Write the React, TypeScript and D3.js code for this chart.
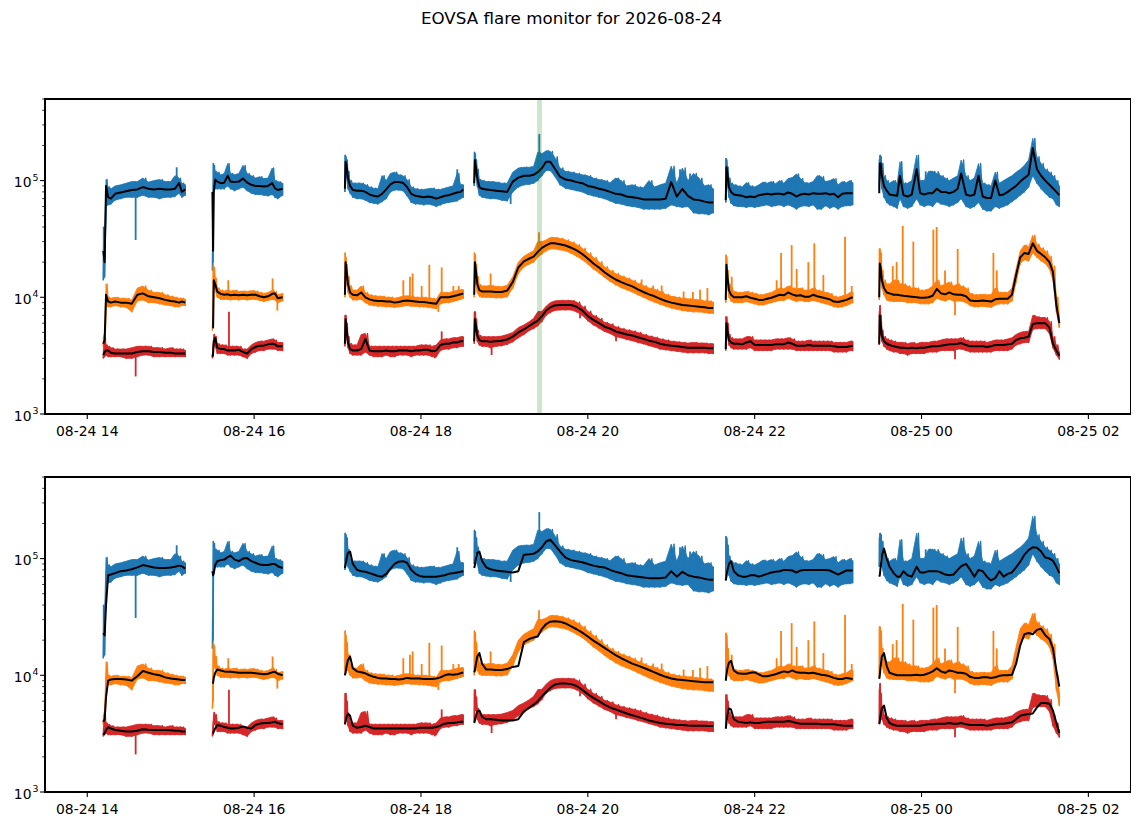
import * as d3 from 'd3';

// Time of each sample, minutes after 2026-08-24 14:00 UT.
// A gap of more than 5 minutes between samples starts a new scan segment.
const timeMin = [
  11.5, 12.5, 13.5, 15, 17, 20, 24, 28, 32, 36, 40, 44, 48, 52, 56, 60, 63, 66, 68, 70.5,
  90, 90.5, 91, 92, 93.5, 96, 98.5, 101, 103, 106, 109, 112, 115, 118, 121, 124, 127, 130, 133, 135, 137, 140.5,
  185.3, 185.8, 186.5, 187.5, 189, 191, 194, 197, 200, 203, 206, 209, 212, 215, 218, 221, 224, 227, 230, 233, 236, 239, 242, 245, 248, 251, 254, 257, 260, 263, 266, 268.5, 270.4,
  278.3, 278.8, 279.5, 280.5, 282, 284, 287, 290, 294, 298, 302, 306, 310, 314, 318, 321, 324, 327, 330, 333, 336, 340, 344, 348, 352, 356, 360, 364, 368, 372, 376, 380, 384, 388, 392, 396, 400, 404, 408, 412, 416, 420, 424, 428, 432, 436, 440, 444, 447, 450.2,
  459.2, 459.7, 460.4, 461.5, 463, 465, 468, 471, 474, 477, 480, 483, 486, 489, 492, 495, 498, 501, 504, 507, 510, 513, 516, 519, 522, 525, 528, 531, 534, 537, 540, 543, 546, 548.5, 550.5,
  569.6, 570, 570.6, 571.5, 573, 575, 577, 580, 582.5, 584.5, 587, 590, 593, 596.5, 599, 602, 605, 608, 611, 614, 617, 620, 623, 626, 628.5, 632, 635, 638, 641, 644, 647, 650, 653, 656, 659, 662, 665, 668, 671, 674, 677, 680, 683, 686, 689, 692, 694.5, 697, 699.1,
];

// all flux values in thousands; lo/hi = spread of the raw samples in each bin,
// med = running median (upper panel), smooth = smoothed curve (lower panel)
const blueLo = [
  14, 15, 60, 62, 63, 68, 70, 72, 72, 72, 75, 72, 72, 70, 72, 72, 73, 78, 72, 75,
  17, 20, 85, 85, 85, 85, 85, 90, 85, 82, 85, 88, 82, 78, 76, 76, 75, 74, 76, 72, 70, 75,
  80, 110, 105, 85, 78, 72, 70, 70, 68, 65, 64, 63, 66, 70, 80, 83, 83, 82, 74, 65, 63, 63, 62, 63, 62, 60, 62, 64, 65, 66, 67, 70, 72,
  90, 120, 110, 90, 75, 72, 71, 70, 70, 68, 67, 80, 88, 92, 93, 95, 100, 110, 122, 122, 110, 92, 86, 84, 82, 80, 76, 74, 72, 70, 67, 64, 63, 61, 60, 59, 57, 57, 57, 57, 58, 62, 60, 59, 60, 53, 52, 52, 51, 53,
  65, 100, 90, 72, 64, 61, 60, 60, 59, 60, 59, 60, 61, 62, 60, 61, 62, 60, 62, 60, 57, 60, 61, 60, 62, 57, 57, 61, 58, 60, 57, 60, 61, 61, 62,
  85, 110, 105, 85, 72, 65, 62, 60, 58, 70, 60, 58, 60, 70, 62, 60, 62, 60, 66, 63, 62, 60, 62, 65, 70, 60, 58, 60, 65, 57, 55, 55, 60, 58, 60, 62, 66, 70, 75, 80, 88, 110, 95, 85, 78, 72, 70, 62, 60,
];
const blueHi = [
  40, 35, 102, 88, 85, 90, 92, 95, 98, 98, 105, 97, 100, 102, 98, 98, 110, 105, 95, 92,
  30, 140, 135, 120, 118, 112, 115, 140, 115, 112, 115, 135, 115, 110, 105, 108, 104, 105, 128, 100, 98, 95,
  165, 160, 150, 120, 100, 95, 95, 95, 92, 88, 86, 85, 110, 100, 115, 118, 112, 110, 102, 88, 85, 84, 84, 85, 86, 84, 84, 86, 88, 90, 115, 92, 92,
  175, 170, 150, 125, 102, 100, 98, 98, 97, 95, 95, 118, 128, 130, 130, 132, 175, 170, 180, 178, 160, 128, 120, 118, 115, 112, 110, 105, 102, 100, 96, 105, 100, 90, 92, 88, 87, 100, 88, 92, 95, 133, 95, 128, 100, 115, 105, 90, 92, 85,
  155, 150, 130, 105, 95, 92, 90, 88, 96, 90, 88, 92, 97, 95, 98, 94, 100, 95, 104, 106, 114, 104, 96, 95, 98, 110, 108, 98, 100, 104, 92, 98, 96, 100, 96,
  150, 165, 160, 140, 110, 100, 95, 100, 95, 145, 95, 95, 100, 165, 100, 100, 120, 120, 115, 110, 105, 100, 105, 110, 150, 110, 100, 105, 140, 95, 92, 90, 118, 95, 100, 105, 110, 118, 125, 135, 150, 230, 160, 140, 125, 118, 110, 100, 90,
];
const blueMed = [
  25, 20, 90, 72, 70, 77, 79, 81, 83, 84, 88, 85, 84, 85, 84, 84, 85, 95, 80, 84,
  80, 25, 80, 102, 98, 95, 96, 110, 98, 97, 98, 104, 96, 92, 90, 90, 89, 90, 95, 86, 83, 85,
  85, 145, 135, 105, 90, 83, 82, 82, 80, 76, 74, 73, 77, 84, 93, 97, 97, 96, 88, 77, 74, 73, 72, 73, 72, 70, 72, 74, 75, 77, 79, 80, 84,
  95, 150, 130, 105, 88, 85, 84, 83, 82, 81, 80, 98, 106, 110, 110, 112, 118, 128, 145, 145, 128, 108, 102, 100, 97, 95, 90, 88, 85, 83, 80, 77, 76, 73, 72, 71, 69, 69, 69, 69, 70, 97, 73, 85, 74, 69, 68, 66, 65, 65,
  68, 130, 115, 88, 80, 76, 75, 74, 72, 73, 72, 75, 76, 77, 76, 77, 77, 76, 79, 77, 73, 76, 77, 76, 78, 77, 77, 78, 76, 77, 72, 77, 78, 78, 78,
  78, 140, 140, 110, 90, 82, 76, 75, 74, 110, 75, 73, 76, 125, 78, 76, 78, 78, 85, 80, 80, 78, 80, 85, 115, 76, 74, 76, 110, 73, 71, 71, 100, 75, 76, 80, 85, 90, 98, 105, 112, 190, 125, 110, 100, 92, 86, 80, 75,
];
const blueSmooth = [
  23, 22, 40, 72, 73, 75, 78, 79, 81, 84, 88, 86, 84, 83, 83, 84, 85, 87, 86, 82,
  78, 72, 75, 88, 95, 97, 98, 103, 106, 98, 95, 100, 101, 95, 92, 89, 88, 88, 90, 90, 86, 83,
  83, 88, 100, 112, 115, 90, 80, 78, 77, 75, 73, 71, 70, 74, 82, 90, 94, 95, 92, 80, 74, 71, 70, 70, 70, 70, 71, 72, 74, 75, 76, 77, 78,
  83, 88, 100, 112, 115, 95, 84, 81, 79, 78, 77, 76, 78, 108, 109, 110, 115, 125, 140, 145, 132, 115, 102, 97, 95, 93, 90, 87, 85, 84, 80, 77, 75, 72, 71, 70, 69, 68, 68, 68, 69, 78, 70, 77, 72, 70, 69, 67, 66, 66,
  65, 70, 80, 90, 95, 78, 72, 70, 70, 72, 72, 70, 72, 74, 76, 77, 78, 80, 80, 79, 76, 79, 80, 80, 80, 80, 80, 80, 79, 76, 73, 76, 79, 79, 79,
  70, 72, 85, 105, 122, 100, 85, 75, 70, 70, 78, 72, 70, 85, 76, 76, 78, 78, 78, 76, 73, 72, 73, 80, 86, 90, 80, 70, 80, 78, 70, 65, 68, 78, 70, 74, 76, 84, 94, 108, 118, 125, 124, 115, 102, 100, 96, 85, 75,
];

const orangeLo = [
  3.8, 4.0, 8.5, 8.3, 8.3, 8.5, 8.3, 8.2, 7.5, 9.3, 9.5, 9.0, 9.0, 8.8, 8.6, 8.5, 8.3, 8.3, 8.5, 8.5,
  5.2, 6, 13, 11.5, 10, 9.6, 9.6, 9.6, 9.5, 9.6, 9.5, 9.6, 9.5, 9.6, 9.6, 9.4, 9.2, 9.4, 9.6, 9.5, 9.0, 9.3,
  10, 14, 13, 11, 10, 9.5, 9.5, 9.6, 9, 8.6, 8.5, 8.4, 8.4, 8.3, 8.3, 8.2, 8.3, 8.4, 8.5, 8.4, 8.4, 8.3, 8.3, 8.2, 8.1, 8, 8.8, 9, 9, 9.2, 9.4, 9.6, 9.8,
  10, 15, 13, 11, 10.2, 10, 10, 10, 9.9, 9.9, 10.1, 12, 16, 18.2, 19.3, 20, 22, 23.5, 25, 26, 26, 25.5, 25, 23.8, 22.5, 21, 19.3, 17.5, 16.2, 14.8, 13.7, 12.8, 12.1, 11.6, 11.1, 10.5, 10, 9.5, 9.1, 8.7, 8.4, 8.1, 7.9, 7.7, 7.6, 7.5, 7.5, 7.4, 7.3, 7.3,
  9, 14, 12, 10, 9.3, 9, 9, 9, 9.2, 9, 8.8, 8.6, 8.6, 8.8, 9, 9.2, 9.4, 9.4, 9.8, 9.5, 9.2, 9.4, 9.2, 9.2, 9.4, 9.2, 9, 8.8, 8.6, 8.3, 8.2, 8.3, 8.5, 8.8, 9,
  9.5, 15, 14, 12, 10.5, 9.5, 9.3, 9.2, 9.2, 9.2, 9.2, 9, 9, 9, 8.8, 8.8, 8.8, 9, 9.8, 9.5, 9.3, 9.6, 9.3, 9.3, 9.3, 9, 8.5, 8.3, 8.3, 8.4, 8.3, 8.2, 8.6, 8.8, 8.8, 8.8, 9.3, 13.5, 19.5, 21, 20.5, 24, 22, 20.5, 19.5, 17.5, 14, 7.5, 5.5,
];
const orangeHi = [
  4.5, 5.0, 13, 10, 9.8, 10, 9.8, 9.8, 9.5, 12, 12.5, 11.5, 11, 11, 10.5, 10.2, 10, 9.8, 9.8, 9.6,
  6, 19, 18, 14.5, 12, 11.5, 11.3, 11.5, 11.3, 11.5, 11.2, 11.3, 11.2, 11.4, 11.3, 11, 10.8, 11, 11.5, 11.2, 10.5, 10.8,
  24, 22, 19, 15, 12.5, 11.5, 11.5, 12.5, 11, 10.5, 10.3, 10.2, 10.2, 10, 10, 9.8, 10, 10.2, 10.3, 10.2, 10, 10, 10, 9.9, 9.8, 9.6, 11, 11, 11, 11.2, 11.5, 11.6, 11.6,
  24, 23, 19, 15, 12.8, 12.5, 12.5, 12.6, 12.4, 12.3, 12.7, 15, 20, 22.5, 24, 25, 30, 30, 31, 32.5, 32.5, 32, 31, 29.8, 28.3, 26.3, 24, 22, 20.2, 18.3, 17, 16, 15.2, 14.6, 14, 13.2, 12.6, 12, 11.7, 11.2, 10.6, 10.2, 10, 9.8, 9.7, 9.6, 9.5, 9.3, 9.3, 9.1,
  23, 22, 17, 13, 12, 11.2, 11, 11, 11.2, 11, 10.8, 10.5, 10.5, 10.8, 11, 11.5, 12, 11.8, 12.5, 12, 11.8, 12, 11.5, 11.5, 12, 11.5, 11.3, 11, 10.8, 10.2, 10, 10.3, 10.5, 11, 11,
  26, 26, 24, 17, 14, 13, 13, 14, 14, 13, 13, 12.5, 12, 12, 11.5, 11.5, 11.8, 12.5, 14, 12.5, 13, 13.5, 12.5, 13, 12.5, 12, 10.8, 10.5, 10.5, 10.6, 10.5, 10.5, 12, 11, 11, 11, 12, 17.5, 25, 28, 27, 34, 28.5, 26.5, 25, 22.5, 18.5, 10, 7,
];
const orangeMed = [
  4.0, 4.3, 10.5, 9.2, 9.0, 9.2, 9.0, 9.0, 8.8, 10.5, 10.8, 10.2, 10, 9.8, 9.5, 9.3, 9.2, 9.0, 9.2, 9.0,
  5.5, 5.5, 14, 13, 11.2, 10.7, 10.5, 10.6, 10.4, 10.5, 10.4, 10.5, 10.4, 10.5, 10.5, 10.2, 10, 10.2, 10.7, 10.8, 9.8, 10,
  10.5, 20, 17, 13, 11, 10.5, 10.4, 11, 10, 9.6, 9.4, 9.3, 9.3, 9.2, 9.2, 9.0, 9.1, 9.3, 9.4, 9.3, 9.2, 9.1, 9.1, 9.0, 8.9, 8.8, 10, 10, 10, 10.2, 10.4, 10.6, 10.8,
  10.5, 20, 17, 13, 11.5, 11.2, 11.2, 11.2, 11.1, 11.1, 11.4, 13.5, 18, 20.3, 21.5, 22.3, 24.5, 26.5, 27.8, 29, 29, 28.5, 27.8, 26.6, 25.2, 23.5, 21.5, 19.5, 18, 16.4, 15.2, 14.2, 13.5, 12.9, 12.4, 11.7, 11.1, 10.6, 10.2, 9.7, 9.3, 9.0, 8.8, 8.6, 8.5, 8.4, 8.3, 8.2, 8.1, 8.1,
  9.5, 19, 15, 11.5, 10.5, 10, 10, 10, 10.2, 9.9, 9.7, 9.5, 9.5, 9.7, 9.9, 10.2, 10.5, 10.4, 11, 10.6, 10.3, 10.4, 10.1, 10.1, 10.5, 10.2, 10, 9.8, 9.6, 9.2, 9.1, 9.3, 9.5, 9.8, 10,
  10, 19.5, 18, 14, 12, 11, 10.8, 10.5, 10.5, 10.4, 10.3, 10.2, 10.1, 10, 9.9, 9.9, 10, 10.3, 11.8, 10.8, 10.6, 11, 10.6, 10.5, 10.5, 10.2, 9.4, 9.3, 9.3, 9.4, 9.3, 9.2, 9.6, 9.7, 9.7, 9.7, 10.5, 15.5, 22, 24, 23.5, 29, 25, 23.5, 22, 20, 16.5, 8.5, 6,
];
const orangeSmooth = [
  4.0, 4.2, 6.5, 9.0, 9.2, 9.3, 9.3, 9.2, 9.0, 9.8, 10.9, 10.5, 10.2, 10.0, 9.6, 9.4, 9.3, 9.2, 9.1, 9.1,
  8.5, 8.6, 9.5, 10.5, 11.2, 11, 10.8, 10.7, 10.7, 10.6, 10.5, 10.5, 10.5, 10.5, 10.4, 10.3, 10.2, 10.3, 10.6, 10.7, 10.3, 10,
  10, 10.5, 12, 13.5, 14.5, 11.5, 10.8, 10.6, 10.4, 10, 9.7, 9.5, 9.4, 9.4, 9.3, 9.3, 9.2, 9.3, 9.5, 9.4, 9.4, 9.4, 9.3, 9.3, 9.3, 9.4, 9.6, 10, 10.2, 10.1, 10.2, 10.4, 10.6,
  10.6, 11, 12.5, 14.5, 15.5, 12.5, 11.2, 11.2, 11.1, 11.1, 11.3, 11.8, 12, 19.2, 20.5, 21.1, 21.5, 25, 27.5, 28.8, 29, 28.8, 27.8, 26.3, 24.8, 23.2, 21.5, 19.8, 18.5, 17.2, 16, 14.9, 14, 13.3, 12.6, 12.1, 11.6, 11.1, 10.6, 10.1, 9.7, 9.4, 9.2, 9.1, 9.0, 8.9, 8.8, 8.7, 8.7, 8.7,
  9, 10, 11.5, 12.8, 13.3, 11, 10.4, 10.3, 10.3, 10.5, 10.6, 10.2, 9.8, 9.8, 10, 10.2, 10.5, 10.8, 10.6, 11, 10.6, 10.5, 10.5, 10.4, 10.5, 10.3, 10.1, 10, 9.8, 9.5, 9.3, 9.3, 9.5, 9.4, 9.3,
  9.3, 10, 12, 14.5, 15.5, 12, 10.5, 10.2, 10, 10, 10, 10, 10, 10.1, 10, 10.1, 10.4, 10.8, 11.5, 10.8, 10.5, 11, 10.8, 10.5, 10.5, 10.3, 9.7, 9.5, 9.5, 9.6, 9.6, 9.5, 9.6, 9.9, 10, 10, 10.1, 12.5, 18, 22.5, 23, 22.5, 24.5, 25, 22, 20.5, 17, 11, 8,
];

const redLo = [
  3.0, 3.1, 3.2, 3.1, 3.1, 3.1, 3.1, 3.0, 3.0, 3.1, 3.2, 3.2, 3.1, 3.1, 3.1, 3.1, 3.1, 3.1, 3.1, 3.1,
  3.0, 3.1, 3.8, 3.8, 3.3, 3.3, 3.3, 3.2, 3.2, 3.2, 3.2, 3.1, 3.0, 3.3, 3.4, 3.5, 3.5, 3.6, 3.6, 3.6, 3.5, 3.5,
  3.8, 5, 4.5, 3.7, 3.3, 3.2, 3.2, 3.2, 3.4, 3.2, 3.1, 3.1, 3.1, 3.2, 3.1, 3.1, 3.2, 3.2, 3.2, 3.1, 3.2, 3.2, 3.2, 3.2, 3.1, 3.1, 3.5, 3.6, 3.6, 3.7, 3.7, 3.8, 3.8,
  4.0, 5.5, 5.0, 4.2, 3.9, 3.8, 3.8, 3.7, 3.8, 3.85, 3.95, 4.15, 4.5, 4.8, 5.2, 5.4, 5.7, 6.2, 7.0, 7.4, 7.7, 7.8, 7.8, 7.8, 7.5, 7.0, 6.3, 5.8, 5.45, 5.1, 4.9, 4.6, 4.5, 4.35, 4.25, 4.1, 4.0, 3.85, 3.75, 3.6, 3.55, 3.5, 3.45, 3.4, 3.35, 3.35, 3.35, 3.35, 3.3, 3.3,
  3.5, 5, 4.6, 3.9, 3.7, 3.6, 3.6, 3.6, 3.6, 3.7, 3.5, 3.5, 3.5, 3.5, 3.5, 3.6, 3.6, 3.6, 3.6, 3.6, 3.5, 3.5, 3.5, 3.5, 3.5, 3.5, 3.5, 3.5, 3.5, 3.4, 3.4, 3.4, 3.4, 3.5, 3.5,
  3.9, 5, 4.8, 4.2, 3.8, 3.6, 3.5, 3.4, 3.4, 3.3, 3.3, 3.2, 3.3, 3.3, 3.3, 3.3, 3.4, 3.4, 3.4, 3.5, 3.5, 3.5, 3.5, 3.6, 3.6, 3.5, 3.4, 3.4, 3.4, 3.4, 3.4, 3.4, 3.5, 3.5, 3.5, 3.5, 3.6, 3.9, 4.0, 4.1, 4.1, 5.3, 5.4, 5.4, 5.4, 4.9, 3.7, 3.2, 2.95,
];
const redHi = [
  3.5, 4.5, 3.9, 3.8, 3.7, 3.6, 3.6, 3.6, 3.7, 3.8, 3.8, 3.8, 3.7, 3.7, 3.6, 3.7, 3.6, 3.6, 3.6, 3.5,
  3.3, 4.0, 4.8, 4.6, 4.0, 3.9, 3.9, 3.8, 3.8, 3.8, 3.8, 3.6, 3.6, 3.9, 4.1, 4.2, 4.2, 4.3, 4.4, 4.3, 4.1, 4.1,
  7, 7, 6, 4.6, 4, 3.9, 3.9, 4.8, 4.9, 3.8, 3.8, 3.8, 3.8, 3.8, 3.8, 3.8, 3.8, 3.8, 3.8, 3.8, 3.8, 3.9, 3.9, 3.9, 3.8, 3.9, 4.3, 4.4, 4.4, 4.5, 4.5, 4.6, 4.6,
  7.5, 7.5, 6.5, 5.2, 4.7, 4.6, 4.6, 4.6, 4.6, 4.65, 4.8, 5.0, 5.5, 5.8, 6.2, 6.6, 7.5, 7.6, 8.4, 9.0, 9.3, 9.4, 9.4, 9.4, 9.1, 8.4, 7.6, 7.0, 6.6, 6.1, 5.9, 5.6, 5.4, 5.25, 5.15, 5.0, 4.8, 4.65, 4.55, 4.4, 4.3, 4.2, 4.15, 4.1, 4.05, 4.1, 4.05, 4.05, 4.0, 4.0,
  6.8, 6.8, 6, 4.8, 4.5, 4.4, 4.4, 4.4, 4.6, 4.6, 4.3, 4.3, 4.3, 4.3, 4.3, 4.4, 4.4, 4.4, 4.5, 4.4, 4.2, 4.2, 4.2, 4.3, 4.2, 4.2, 4.2, 4.2, 4.2, 4.1, 4.1, 4.1, 4.1, 4.2, 4.2,
  7.5, 8.5, 7, 5.2, 4.6, 4.4, 4.3, 4.2, 4.1, 4.1, 4.1, 4.0, 4.1, 4.0, 4.1, 4.1, 4.1, 4.2, 4.2, 4.3, 4.4, 4.4, 4.4, 4.4, 4.5, 4.3, 4.2, 4.2, 4.2, 4.2, 4.1, 4.2, 4.3, 4.3, 4.3, 4.4, 4.5, 4.8, 5.0, 5.1, 5.1, 7.0, 6.8, 6.7, 6.7, 6.2, 4.6, 3.9, 3.4,
];
const redMed = [
  3.2, 3.4, 3.5, 3.5, 3.35, 3.3, 3.3, 3.3, 3.3, 3.4, 3.45, 3.45, 3.4, 3.4, 3.35, 3.35, 3.3, 3.3, 3.3, 3.3,
  3.1, 3.3, 4.2, 4.5, 3.7, 3.6, 3.6, 3.5, 3.5, 3.5, 3.55, 3.4, 3.3, 3.6, 3.75, 3.85, 3.85, 3.95, 4.0, 3.95, 3.8, 3.8,
  4, 6.5, 5.5, 4.1, 3.6, 3.5, 3.5, 3.6, 4.4, 3.5, 3.45, 3.45, 3.45, 3.5, 3.45, 3.45, 3.5, 3.5, 3.5, 3.45, 3.5, 3.5, 3.55, 3.55, 3.45, 3.5, 3.9, 4.0, 4.0, 4.1, 4.1, 4.2, 4.2,
  4.2, 6.5, 5.8, 4.7, 4.3, 4.2, 4.2, 4.15, 4.2, 4.25, 4.35, 4.6, 5.0, 5.3, 5.7, 6.0, 6.3, 6.9, 7.7, 8.2, 8.5, 8.6, 8.6, 8.6, 8.3, 7.7, 6.9, 6.4, 6.0, 5.6, 5.4, 5.1, 4.95, 4.8, 4.7, 4.55, 4.4, 4.25, 4.15, 4.0, 3.9, 3.85, 3.8, 3.75, 3.7, 3.7, 3.7, 3.7, 3.65, 3.65,
  3.6, 6.0, 5.2, 4.3, 4.1, 4.0, 4.0, 3.95, 4.1, 4.2, 3.9, 3.9, 3.9, 3.9, 3.9, 3.95, 3.95, 3.95, 4.1, 4.0, 3.85, 3.85, 3.85, 3.9, 3.85, 3.85, 3.85, 3.85, 3.85, 3.8, 3.75, 3.75, 3.75, 3.8, 3.85,
  4.0, 7, 6, 4.7, 4.2, 4.0, 3.9, 3.8, 3.75, 3.7, 3.7, 3.65, 3.7, 3.65, 3.7, 3.7, 3.75, 3.8, 3.8, 3.85, 3.9, 3.95, 3.95, 4.0, 4.05, 3.9, 3.8, 3.8, 3.8, 3.8, 3.75, 3.8, 3.9, 3.9, 3.9, 3.95, 4.0, 4.3, 4.45, 4.5, 4.6, 5.9, 6.0, 6.0, 6.0, 5.5, 4.0, 3.5, 3.15,
];
const redSmooth = [
  3.1, 3.2, 3.4, 3.6, 3.5, 3.4, 3.35, 3.3, 3.3, 3.35, 3.45, 3.42, 3.4, 3.4, 3.4, 3.38, 3.35, 3.35, 3.3, 3.3,
  3.2, 3.2, 3.3, 3.5, 3.75, 3.7, 3.6, 3.55, 3.5, 3.5, 3.55, 3.65, 3.55, 3.5, 3.75, 3.85, 3.9, 3.9, 3.95, 4.0, 3.9, 3.8,
  3.8, 4.0, 4.4, 4.7, 4.5, 3.7, 3.55, 3.6, 3.7, 3.6, 3.5, 3.5, 3.5, 3.5, 3.5, 3.5, 3.5, 3.5, 3.5, 3.5, 3.5, 3.55, 3.55, 3.55, 3.55, 3.6, 3.7, 3.85, 3.9, 3.9, 3.95, 4.0, 4.0,
  3.9, 4.1, 4.5, 4.9, 5.0, 4.4, 4.2, 4.2, 4.15, 4.1, 4.1, 4.1, 4.2, 4.9, 5.3, 5.6, 6.0, 6.6, 7.2, 7.8, 8.3, 8.5, 8.5, 8.4, 8.1, 7.5, 6.9, 6.4, 6.0, 5.6, 5.3, 5.1, 4.9, 4.7, 4.55, 4.4, 4.25, 4.1, 4.0, 3.9, 3.85, 3.8, 3.75, 3.75, 3.72, 3.7, 3.7, 3.7, 3.68, 3.68,
  3.5, 3.9, 4.6, 5.2, 5.1, 4.2, 4.0, 3.95, 3.9, 3.95, 3.9, 3.9, 3.95, 4.0, 4.0, 4.0, 4.0, 4.0, 4.05, 4.0, 3.9, 3.85, 3.85, 3.85, 3.85, 3.85, 3.8, 3.8, 3.8, 3.8, 3.75, 3.72, 3.7, 3.7, 3.7,
  3.8, 4.0, 4.6, 5.2, 5.5, 4.3, 3.9, 3.75, 3.7, 3.7, 3.7, 3.7, 3.7, 3.7, 3.7, 3.75, 3.8, 3.8, 3.85, 3.85, 3.85, 3.9, 3.85, 3.85, 3.9, 3.8, 3.75, 3.75, 3.75, 3.75, 3.7, 3.75, 3.8, 3.85, 3.85, 3.9, 3.95, 4.2, 4.5, 4.6, 4.65, 4.7, 5.3, 5.8, 5.8, 5.7, 5.0, 3.9, 3.2,
];

// isolated single-sample excursions [minute, value in thousands]
const blueSpikes = [
  [34.8, 31], [64.3, 130], [212.4, 110], [266.1, 125], [304.5, 63], [325.1, 250],
  [380.8, 105], [426.3, 125], [433.5, 115], [438.3, 105], [603, 120], [612, 120],
];
const orangeSpikes = [
  [101.4, 14], [133.3, 14.5], [136.7, 7.7], [227.3, 14], [232.1, 15], [234, 16], [240.5, 12.5],
  [246, 19], [252.5, 7.5], [254.9, 18], [263.3, 12.5], [267.1, 12.5], [290.1, 16], [324.9, 36],
  [390.3, 14], [398.7, 14.2], [407, 12.6], [413.1, 12.6], [428.9, 11.2], [435.6, 11.1], [440.7, 11.6],
  [446, 12], [463.5, 15], [495.8, 14], [499, 24], [506.6, 28], [510.2, 17.5], [518.6, 20],
  [522.9, 29], [529.4, 15.5], [545, 33], [549.8, 12.5], [579.3, 18.5], [582.1, 20], [586.5, 41],
  [594.1, 30], [608.5, 38], [610.9, 40], [616.9, 17], [624.1, 7], [626, 26], [651.7, 24], [654.1, 17],
];
const redSpikes = [
  [34.8, 2.1], [101.9, 7.5], [250, 3.0], [254.9, 5.1], [290.8, 3.2], [324.6, 7.6],
  [354.4, 6.6], [380.3, 4.2], [624.1, 2.95],
];

// flagged flare interval, minutes after 14:00
const flareSpan = [323.5, 327];

const W = 1143;
const H = 826;
const LEFT = 45;
const RIGHT = 1130.5;
const PANELS = [
  { top: 99, bottom: 414, smooth: false },
  { top: 477, bottom: 792, smooth: true },
];
const FONT = '"DejaVu Sans", sans-serif';
const K = 1000;

const T0 = Date.UTC(2026, 7, 24, 14, 0);
const toDate = (m: number) => new Date(T0 + m * 60000);

const x = d3.scaleUtc().domain([toDate(-30.4), toDate(750.3)]).range([LEFT, RIGHT]);
const xt = (m: number) => x(toDate(m));

const SERIES = [
  { color: '#1f77b4', lo: blueLo, hi: blueHi, med: blueMed, smooth: blueSmooth, spikes: blueSpikes },
  { color: '#ff7f0e', lo: orangeLo, hi: orangeHi, med: orangeMed, smooth: orangeSmooth, spikes: orangeSpikes },
  { color: '#d62728', lo: redLo, hi: redHi, med: redMed, smooth: redSmooth, spikes: redSpikes },
];

// split sample indices into contiguous scans
function scanRuns(): number[][] {
  const out: number[][] = [];
  let cur: number[] = [];
  timeMin.forEach((t, i) => {
    if (i > 0 && t - timeMin[i - 1] > 5) {
      out.push(cur);
      cur = [];
    }
    cur.push(i);
  });
  out.push(cur);
  return out;
}
const RUNS = scanRuns();

function nearest(t: number) {
  let best = 0;
  timeMin.forEach((v, i) => {
    if (Math.abs(v - t) < Math.abs(timeMin[best] - t)) best = i;
  });
  return best;
}

const expFmt = (v: number) => String(Math.round(Math.log10(v)));

function Panel({ top, bottom, smooth }: { top: number; bottom: number; smooth: boolean }) {
  const y = d3.scaleLog().domain([1e3, 5e5]).range([bottom, top]);

  const area = d3.area<number>().x((i) => xt(timeMin[i]));
  const line = d3
    .line<[number, number]>()
    .x((d) => xt(d[0]))
    .y((d) => y(d[1] * K));

  const majors = [1e3, 1e4, 1e5];
  const minors: number[] = [];
  [1e3, 1e4, 1e5].forEach((dec) => {
    for (let k = 2; k <= 9; k++) if (k * dec <= 5e5) minors.push(k * dec);
  });
  const xTicks = x.ticks(d3.utcHour.every(2)!);
  const fmt = d3.utcFormat('%m-%d %H');

  return (
    <g>
      {SERIES.map((s, si) => (
        <g key={`raw${si}`}>
          {RUNS.map((run, ri) => {
            const zig: [number, number][] = [];
            run.forEach((i, k) => {
              zig.push([timeMin[i], s.lo[i]]);
              const next = run[k + 1];
              const tm = next !== undefined ? (timeMin[i] + timeMin[next]) / 2 : timeMin[i];
              zig.push([tm, s.hi[i]]);
            });
            const a = area.y0((i) => y(s.lo[i] * K)).y1((i) => y(s.hi[i] * K))(run) ?? '';
            return (
              <g key={ri}>
                <path d={a} fill={s.color} stroke={s.color} strokeWidth={0.8} />
                <path d={line(zig) ?? ''} fill="none" stroke={s.color} strokeWidth={1.4} strokeLinejoin="round" />
              </g>
            );
          })}
          {s.spikes.map(([t, v], k) => {
            const base = s.med[nearest(t)];
            return (
              <line
                key={k}
                x1={xt(t)}
                x2={xt(t)}
                y1={y(base * K)}
                y2={y(v * K)}
                stroke={s.color}
                strokeWidth={1.8}
              />
            );
          })}
        </g>
      ))}
      {SERIES.map((s, si) =>
        RUNS.map((run, ri) => (
          <path
            key={`blk${si}-${ri}`}
            d={line(run.map((i) => [timeMin[i], (smooth ? s.smooth : s.med)[i]] as [number, number])) ?? ''}
            fill="none"
            stroke="#000"
            strokeWidth={2}
            strokeLinejoin="round"
          />
        )),
      )}
      {!smooth && (
        <rect
          x={xt(flareSpan[0])}
          width={xt(flareSpan[1]) - xt(flareSpan[0])}
          y={top}
          height={bottom - top}
          fill="green"
          fillOpacity={0.2}
        />
      )}
      <rect
        x={LEFT}
        y={top}
        width={RIGHT - LEFT}
        height={bottom - top}
        fill="none"
        stroke="#000"
        strokeWidth={1.1}
        shapeRendering="crispEdges"
      />
      {xTicks.map((d) => (
        <g key={+d}>
          <line x1={x(d)} x2={x(d)} y1={bottom} y2={bottom + 4.9} stroke="#000" strokeWidth={1.1} />
          <text x={x(d)} y={bottom + 22} textAnchor="middle" fontSize={13.9} fontFamily={FONT}>
            {fmt(d)}
          </text>
        </g>
      ))}
      {minors.map((v) => (
        <line key={v} x1={LEFT - 2.8} x2={LEFT} y1={y(v)} y2={y(v)} stroke="#000" strokeWidth={0.8} />
      ))}
      {majors.map((v) => (
        <g key={v}>
          <line x1={LEFT - 4.9} x2={LEFT} y1={y(v)} y2={y(v)} stroke="#000" strokeWidth={1.1} />
          <text x={38.5} y={y(v) + 6.5} textAnchor="end" fontSize={13.9} fontFamily={FONT}>
            10
            <tspan dx={1} dy={-6.3} fontSize={9.4}>
              {expFmt(v)}
            </tspan>
          </text>
        </g>
      ))}
    </g>
  );
}

export default function App() {
  return (
    <>
      <style>{'body{margin:0;background:#fff}'}</style>
      <svg width={W} height={H} viewBox={`0 0 ${W} ${H}`} style={{ display: 'block', background: '#fff' }}>
        <text x={W / 2} y={24} textAnchor="middle" fontSize={16.7} fontFamily={FONT}>
          EOVSA flare monitor for 2026-08-24
        </text>
        {PANELS.map((p, i) => (
          <Panel key={i} top={p.top} bottom={p.bottom} smooth={p.smooth} />
        ))}
      </svg>
    </>
  );
}
